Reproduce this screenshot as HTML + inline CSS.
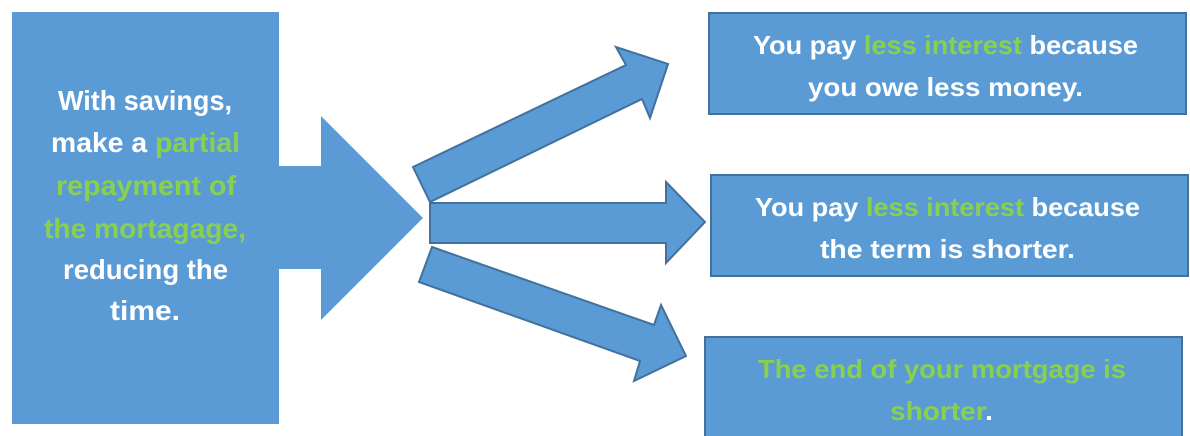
<!DOCTYPE html>
<html><head><meta charset="utf-8"><style>
html,body{margin:0;padding:0;background:#fff;width:1190px;height:436px;overflow:hidden}
svg text{font-family:"Liberation Sans",sans-serif;font-weight:bold;fill:#fff}
.g{fill:#8ad04f}
</style></head><body>
<svg width="1190" height="436" viewBox="0 0 1190 436" xmlns="http://www.w3.org/2000/svg">
<rect x="12" y="12" width="267" height="412" fill="#5b9bd5"/>
<polygon points="278,166 321,166 321,116 423,218 321,320 321,269 278,269" fill="#5b9bd5"/>
<g fill="#5b9bd5" stroke="#41719c" stroke-width="2" stroke-linejoin="miter">
<polygon points="413,167 626,65 616,47 668,64 650,118 642,99 430,202"/>
<polygon points="430,203 666,203 666,182 705,222 666,263 666,243 430,243"/>
<polygon points="432,247 654,325 661,305 686,356 634,381 640,361 419,282"/>
<rect x="709" y="13" width="477" height="101"/>
<rect x="711" y="175" width="477" height="101"/>
<rect x="705" y="337" width="477" height="102"/>
</g>
<g font-size="28" text-anchor="start">
<text x="58" y="110" textLength="174" lengthAdjust="spacingAndGlyphs">With savings,</text>
<text x="51" y="152" textLength="189" lengthAdjust="spacingAndGlyphs">make a <tspan class="g">partial</tspan></text>
<text x="56" y="195" textLength="180" lengthAdjust="spacingAndGlyphs" class="g">repayment of</text>
<text x="44" y="238" textLength="202" lengthAdjust="spacingAndGlyphs" class="g">the mortagage,</text>
<text x="63" y="279" textLength="165" lengthAdjust="spacingAndGlyphs">reducing the</text>
<text x="110" y="320" textLength="70" lengthAdjust="spacingAndGlyphs">time.</text>
</g>
<g font-size="26">
<text x="753" y="54" textLength="385" lengthAdjust="spacingAndGlyphs">You pay <tspan class="g">less interest</tspan> because</text>
<text x="808" y="96" textLength="275" lengthAdjust="spacingAndGlyphs">you owe less money.</text>
<text x="755" y="216" textLength="385" lengthAdjust="spacingAndGlyphs">You pay <tspan class="g">less interest</tspan> because</text>
<text x="820" y="258" textLength="255" lengthAdjust="spacingAndGlyphs">the term is shorter.</text>
<text x="758" y="378" textLength="368" lengthAdjust="spacingAndGlyphs" class="g">The end of your mortgage is</text>
<text x="890" y="420" textLength="103" lengthAdjust="spacingAndGlyphs"><tspan class="g">shorter</tspan>.</text>
</g>
</svg>
</body></html>
